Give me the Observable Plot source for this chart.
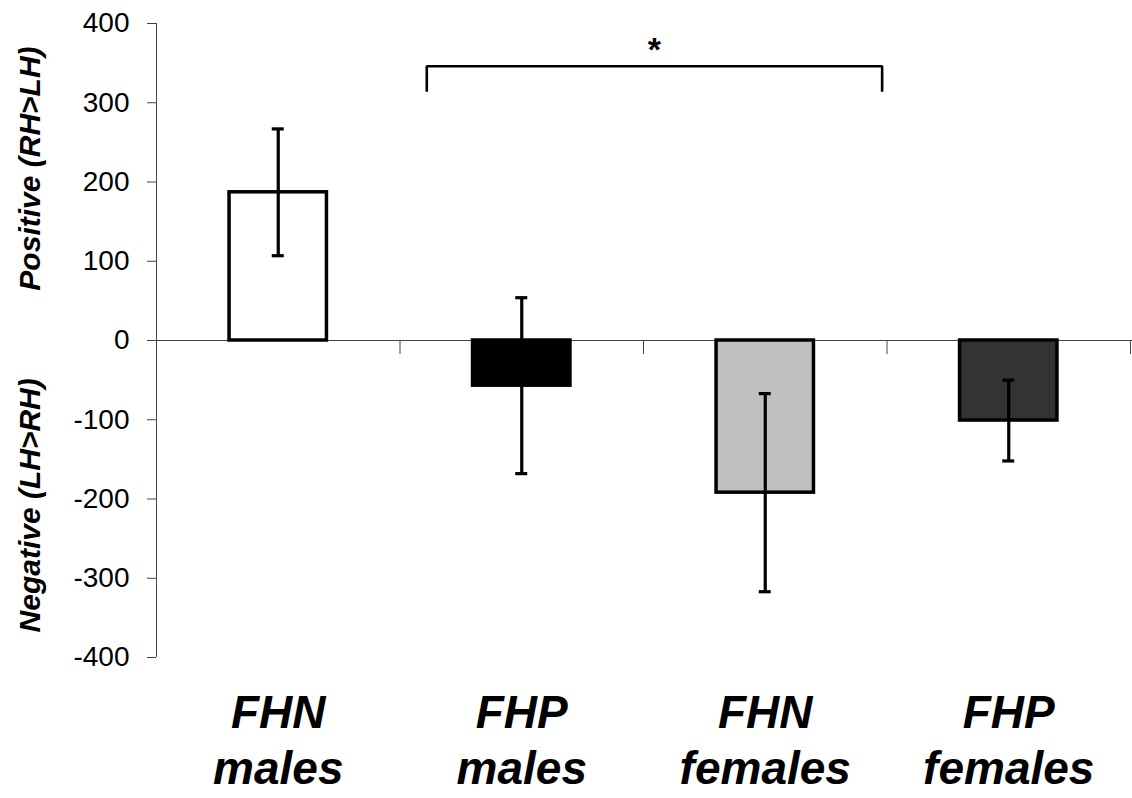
<!DOCTYPE html>
<html>
<head>
<meta charset="utf-8">
<script src="https://cdn.jsdelivr.net/npm/d3@7"></script>
<script src="https://cdn.jsdelivr.net/npm/@observablehq/plot@0.6"></script>
<style>
  html, body { margin: 0; padding: 0; background: #fff; }
  #chart { width: 1132px; height: 798px; }
</style>
</head>
<body>
<div id="chart"></div>
<script>
// ---- data ----
const categories = ["FHN\nmales", "FHP\nmales", "FHN\nfemales", "FHP\nfemales"];
const means = [187, -57, -192, -101];
const errors = [80, 111, 125, 51];
const fills = ["#ffffff", "#000000", "#c0c0c0", "#333333"];
const yTicks = [-400, -300, -200, -100, 0, 100, 200, 300, 400];
const axisTitles = ["Positive (RH>LH)", "Negative (LH>RH)"];
const axisTitleY = [217, -208];
const bracketX = [1.11, 2.98];   // significance bracket span (category units)
const bracketY = [314, 346];     // bracket leg end, bracket top
const starLabel = "*";
const starY = 367;

// ---- derived tables ----
const rows = categories.map((c, i) => ({
  label: c, center: i + 0.5, mean: means[i], err: errors[i], fill: fills[i]
}));
const boundaries = categories.map((c, i) => i + 1);
const bracket = [
  {x: bracketX[0], y: bracketY[0]},
  {x: bracketX[0], y: bracketY[1]},
  {x: bracketX[1], y: bracketY[1]},
  {x: bracketX[1], y: bracketY[0]}
];
const titles = axisTitles.map((t, i) => ({t, y: axisTitleY[i]}));
const halfBar = 0.2;
const font = "'Liberation Sans', Arial, Helvetica, sans-serif";

const chart = Plot.plot({
  width: 1132,
  height: 798,
  marginLeft: 156,
  marginRight: 2,
  marginTop: 23,
  marginBottom: 141,
  style: {fontFamily: font, background: "#fff", color: "#000"},
  x: {type: "linear", domain: [0, 4], axis: null},
  y: {domain: [-400, 400], axis: null},
  color: {type: "identity"},
  marks: [
    // zero line and y axis line
    Plot.ruleY([0], {stroke: "#444", strokeWidth: 1, insetRight: -2}),
    Plot.ruleX([0], {y1: -400, y2: 400, stroke: "#444", strokeWidth: 1}),
    Plot.axisY({
      ticks: yTicks, tickSize: 9, tickPadding: 18, fontSize: 28,
      stroke: "#444", tickFormat: d => String(d), label: null
    }),
    // category boundary ticks on the zero line
    Plot.ruleX(boundaries, {x: d => d, y1: 0, y2: 0, insetBottom: -14, stroke: "#444", strokeWidth: 1}),
    // bars
    Plot.rectY(rows, {
      x1: d => d.center - halfBar, x2: d => d.center + halfBar,
      y1: 0, y2: "mean", fill: "fill", stroke: "#000", strokeWidth: 3.5
    }),
    // error bars
    Plot.ruleX(rows, {x: "center", y1: d => d.mean - d.err, y2: d => d.mean + d.err, stroke: "#000", strokeWidth: 3.2}),
    Plot.ruleY(rows, {y: d => d.mean - d.err, x1: "center", x2: "center", insetLeft: -6, insetRight: -6, stroke: "#000", strokeWidth: 3.2}),
    Plot.ruleY(rows, {y: d => d.mean + d.err, x1: "center", x2: "center", insetLeft: -6, insetRight: -6, stroke: "#000", strokeWidth: 3.2}),
    // significance bracket
    Plot.line(bracket, {x: "x", y: "y", stroke: "#000", strokeWidth: 2.6, strokeLinejoin: "miter", strokeLinecap: "butt"}),
    Plot.text([starLabel], {x: (bracketX[0] + bracketX[1]) / 2, y: starY, text: d => d, fontSize: 34, fontWeight: "bold", fill: "#000"}),
    // category labels
    Plot.text(rows, {
      x: "center", y: -400, text: "label", lineAnchor: "top", dy: 31,
      fontSize: 46, fontWeight: "bold", fontStyle: "italic", lineHeight: 1.22, fill: "#000"
    }),
    // y axis titles
    Plot.text(titles, {
      y: "y", frameAnchor: "left", textAnchor: "middle", dx: -126, text: "t", rotate: -90,
      fontSize: 30, fontWeight: "bold", fontStyle: "italic", fill: "#000"
    })
  ]
});
document.getElementById("chart").appendChild(chart);
</script>
</body>
</html>
